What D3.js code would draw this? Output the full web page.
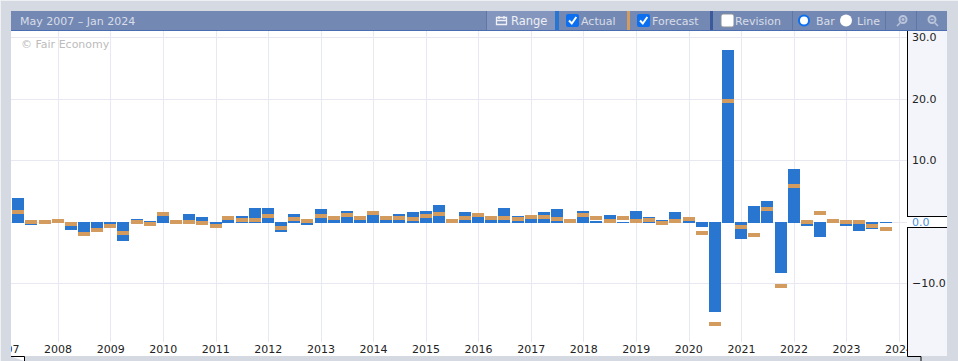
<!DOCTYPE html>
<html>
<head>
<meta charset="utf-8">
<script src="https://cdn.jsdelivr.net/npm/d3@7/dist/d3.min.js"></script>
<style>
  html, body { margin: 0; padding: 0; background: #d5d9e2; overflow: hidden; }
  svg { display: block; font-family: "DejaVu Sans", sans-serif; }
</style>
</head>
<body>
<div id="chart"></div>
<script>
// quarter start of every bar
var quarters = [
  "2007-04-01","2007-07-01","2007-10-01",
  "2008-01-01","2008-04-01","2008-07-01","2008-10-01",
  "2009-01-01","2009-04-01","2009-07-01","2009-10-01",
  "2010-01-01","2010-04-01","2010-07-01","2010-10-01",
  "2011-01-01","2011-04-01","2011-07-01","2011-10-01",
  "2012-01-01","2012-04-01","2012-07-01","2012-10-01",
  "2013-01-01","2013-04-01","2013-07-01","2013-10-01",
  "2014-01-01","2014-04-01","2014-07-01","2014-10-01",
  "2015-01-01","2015-04-01","2015-07-01","2015-10-01",
  "2016-01-01","2016-04-01","2016-07-01","2016-10-01",
  "2017-01-01","2017-04-01","2017-07-01","2017-10-01",
  "2018-01-01","2018-04-01","2018-07-01","2018-10-01",
  "2019-01-01","2019-04-01","2019-07-01","2019-10-01",
  "2020-01-01","2020-04-01","2020-07-01","2020-10-01",
  "2021-01-01","2021-04-01","2021-07-01","2021-10-01",
  "2022-01-01","2022-04-01","2022-07-01","2022-10-01",
  "2023-01-01","2023-04-01","2023-07-01","2023-10-01"
];

var actual = [
  4.0, -0.5, 0.2, 0.3, -1.2, -1.6, -1.0, -0.3, -3.0, 0.55, 0.2, 1.1, 0.1, 1.4, 0.9, -0.3, 0.4, 1.05,
  2.35, 2.35, -1.5, 1.4, -0.4, 2.2, 0.6, 1.9, 0.4, 1.3, 0.4, 1.4, 1.7, 1.9, 2.85, 0.2, 1.7, 1.0,
  0.4, 2.35, 1.05, 0.6, 1.7, 2.2, 0.2, 1.9, 0.25, 1.2, 0.1, 1.9, 0.9, 0.4, 1.7, 0.25,
  -0.75, -14.5, 28.0, -2.7, 2.7, 3.5, -8.2, 8.7, -0.55, -2.35, 0.2, -0.55, -1.4, -1.05, -0.1
];

var forecast = [
  1.7, 0.1, 0.1, 0.25, -0.25, -1.9, -1.2, -0.55, -1.7, 0.1, -0.25, 1.4, 0.1, 0.1, -0.1, -0.55, 0.75, 0.4,
  0.4, 1.05, -0.9, 0.55, 0.25, 1.05, 0.75, 1.2, 0.75, 1.55, 0.75, 0.75, 0.55, 1.05, 1.4, 0.25, 0.75, 1.2,
  0.75, 0.75, 0.55, 0.9, 0.9, 0.55, 0.25, 1.2, 0.75, 0.25, 0.75, 0.25, 0.4, -0.1, 0.25, 0.55,
  -1.7, -16.5, 19.7, -0.7, -2.0, 2.2, -10.3, 5.9, 0.1, 1.55, 0.25, 0.1, 0.1, -0.55, -1.05
];

var yTicks = [30, 20, 10, 0, -10];
var yearTicks = d3.range(2007, 2025);

var title = "May 2007 \u2013 Jan 2024";
var credit = "\u00a9 Fair Economy";

var W = 958, H = 361;
var left = 11, right = 947, axisX = 907, top_ = 31, bottom = 356;

var svg = d3.select("#chart").append("svg")
    .attr("width", W)
    .attr("height", H);

// outer edge of the widget
svg.append("rect").attr("width", W).attr("height", H).attr("fill", "#d5d9e2");
svg.append("rect").attr("width", W).attr("height", 1).attr("fill", "#eef0f4");
svg.append("rect").attr("width", 1).attr("height", H).attr("fill", "#eef0f4");

// plot area
svg.append("rect").attr("x", left).attr("y", top_)
    .attr("width", axisX - left).attr("height", bottom - top_).attr("fill", "#fff");

svg.append("clipPath").attr("id", "plot-clip").append("rect")
    .attr("x", left).attr("y", top_).attr("width", axisX - left).attr("height", bottom - top_);

var x = d3.scaleTime()
    .domain([new Date(2008, 0, 1), new Date(2024, 0, 1)])
    .range([58.3, 899.3]);

var y = d3.scaleLinear()
    .domain([30, -10])
    .range([37.6, 283.9]);

var barWidth = 12;
var parseDay = d3.timeParse("%Y-%m-%d");
var zeroY = Math.round(y(0));

function barX(i) {
    return Math.round(x(parseDay(quarters[i])) - 0.5 - barWidth / 2);
}

var plot = svg.append("g").attr("clip-path", "url(#plot-clip)");

// grid
plot.selectAll("line.vgrid")
    .data(yearTicks)
    .enter()
    .append("line")
    .attr("class", "vgrid")
    .attr("x1", function (d) { return Math.floor(x(new Date(d, 0, 1))) + 0.5; })
    .attr("x2", function (d) { return Math.floor(x(new Date(d, 0, 1))) + 0.5; })
    .attr("y1", top_)
    .attr("y2", 342)
    .attr("stroke", "#e7e8f2");

plot.selectAll("line.hgrid")
    .data(yTicks)
    .enter()
    .append("line")
    .attr("class", "hgrid")
    .attr("x1", left)
    .attr("x2", axisX)
    .attr("y1", function (d) { return Math.floor(y(d)) + 0.5; })
    .attr("y2", function (d) { return Math.floor(y(d)) + 0.5; })
    .attr("stroke", "#e7e8f2");

// actual bars, snapped to whole pixels
plot.selectAll("rect.actual")
    .data(actual)
    .enter()
    .append("rect")
    .attr("class", "actual")
    .attr("x", function (d, i) { return barX(i); })
    .attr("y", function (d) { return d > 0 ? Math.round(y(d)) : zeroY; })
    .attr("width", barWidth)
    .attr("height", function (d) {
        return d > 0 ? zeroY + 1 - Math.round(y(d)) : Math.round(y(d)) - zeroY;
    })
    .attr("fill", "#2876cf");

// forecast markers
plot.selectAll("rect.forecast")
    .data(forecast)
    .enter()
    .append("rect")
    .attr("class", "forecast")
    .attr("x", function (d, i) { return barX(i); })
    .attr("y", function (d) { return Math.round(y(d) - 2); })
    .attr("width", barWidth)
    .attr("height", 4)
    .attr("fill", "#d49b5f");

// copyright
svg.append("text")
    .attr("x", 21).attr("y", 48)
    .attr("font-size", 11)
    .attr("fill", "#bcbcbc")
    .text(credit);

// x axis, labels cut at the plot edges
svg.append("clipPath").attr("id", "label-clip").append("rect")
    .attr("x", left).attr("y", 0).attr("width", axisX - left).attr("height", H);

var xAxis = svg.append("g")
    .attr("clip-path", "url(#label-clip)")
    .append("g")
    .attr("transform", "translate(-0.8,342)")
    .call(d3.axisBottom(x)
        .tickValues(yearTicks.map(function (d) { return new Date(d, 0, 1); }))
        .tickFormat(d3.timeFormat("%Y"))
        .tickSize(0)
        .tickPadding(3));
xAxis.select(".domain").remove();
xAxis.selectAll("text").attr("font-size", 11).attr("font-family", "DejaVu Sans").attr("fill", "#222");

// y axis panel
svg.append("rect").attr("x", axisX).attr("y", top_)
    .attr("width", right - axisX).attr("height", bottom - top_).attr("fill", "#f4f5fa");
svg.append("path")
    .attr("d", "M" + (axisX + 0.5) + "," + top_ + "V" + (bottom + 0.5) + "H921V361")
    .attr("fill", "none").attr("stroke", "#000");

var yAxis = svg.append("g")
    .attr("transform", "translate(" + axisX + ",-0.5)")
    .call(d3.axisRight(y)
        .tickValues(yTicks)
        .tickFormat(d3.format(".1f"))
        .tickSize(0)
        .tickPadding(5));
yAxis.select(".domain").remove();
yAxis.selectAll("text").attr("font-size", 11).attr("font-family", "DejaVu Sans").attr("fill", "#222");

// flag around the zero label
yAxis.selectAll(".tick")
    .filter(function (d) { return d === 0; })
    .each(function () {
        d3.select(this).insert("rect", "text")
            .attr("x", 0).attr("y", -5.5)
            .attr("width", right - axisX).attr("height", 11)
            .attr("fill", "#fff");
        d3.select(this).insert("path", "text")
            .attr("d", "M0,-6H" + (right - axisX) + "M0,5H" + (right - axisX))
            .attr("stroke", "#000").attr("fill", "none")
            .attr("shape-rendering", "crispEdges");
        d3.select(this).select("text").attr("fill", "#4a90d9");
    });

// range handle at bottom left
svg.append("path")
    .attr("d", "M" + left + ",356.5H24.5V361")
    .attr("fill", "#fff").attr("stroke", "#000");

// header bar
var header = svg.append("g");
header.append("rect").attr("x", left).attr("y", 11)
    .attr("width", right - left).attr("height", 19).attr("fill", "#7389b4");
header.append("rect").attr("x", left).attr("y", 30)
    .attr("width", right - left).attr("height", 1).attr("fill", "#4a6cb0");

var headerText = "#d9dde8";
function label(t, px, size, colour) {
    header.append("text")
        .attr("x", px).attr("y", 25)
        .attr("font-size", size || 11)
        .attr("fill", colour || headerText)
        .text(t);
}

label(title, 20);

// range button
header.append("rect").attr("x", 487).attr("y", 11).attr("width", 68).attr("height", 19).attr("fill", "#8496bd");
header.append("rect").attr("x", 486).attr("y", 11).attr("width", 1).attr("height", 19).attr("fill", "#5c77a8");
header.append("path")
    .attr("d", "M496.5,17.5h10v7h-10zM496.5,20.5h10M499,16v3M504,16v3")
    .attr("fill", "none").attr("stroke", "#eef0f5").attr("stroke-width", 1.3);
label("Range", 511, 11.5, "#eef0f5");

// legend stripes
[[555, 4, "#2876cf"], [627, 3, "#d49b5f"], [710, 3, "#3c5a99"]].forEach(function (s) {
    header.append("rect").attr("x", s[0]).attr("y", 11).attr("width", s[1]).attr("height", 19).attr("fill", s[2]);
});

// separators
[792, 885, 916].forEach(function (s) {
    header.append("rect").attr("x", s).attr("y", 11).attr("width", 1).attr("height", 19).attr("fill", "#5c77a8");
});

function checkbox(px, on) {
    header.append("rect").attr("x", px).attr("y", 14).attr("width", 13).attr("height", 13).attr("rx", 2)
        .attr("fill", on ? "#0b6ff0" : "#fff")
        .attr("stroke", on ? "none" : "#8a8f99");
    if (on) {
        header.append("path")
            .attr("d", "M" + (px + 3) + ",20.5l2.8,3l4.5,-6.5")
            .attr("fill", "none").attr("stroke", "#fff").attr("stroke-width", 2);
    }
}
checkbox(566, true);
label("Actual", 581);
checkbox(637, true);
label("Forecast", 652);
checkbox(721, false);
label("Revision", 735);

// radio buttons
header.append("circle").attr("cx", 804).attr("cy", 20.5).attr("r", 5)
    .attr("fill", "#fff").attr("stroke", "#0b6ff0").attr("stroke-width", 2);
label("Bar", 816);
header.append("circle").attr("cx", 846).attr("cy", 20.5).attr("r", 6).attr("fill", "#fff");
label("Line", 857);

// zoom icons
header.append("circle").attr("cx", 903).attr("cy", 19.5).attr("r", 3.5)
    .attr("fill", "none").attr("stroke", "#b9c3d9").attr("stroke-width", 2);
header.append("path").attr("d", "M900,23l-3,3M901.5,19.5h3M903,18v3")
    .attr("fill", "none").attr("stroke", "#b9c3d9").attr("stroke-width", 1.5);
header.append("circle").attr("cx", 932).attr("cy", 19.5).attr("r", 3.5)
    .attr("fill", "none").attr("stroke", "#b9c3d9").attr("stroke-width", 2);
header.append("path").attr("d", "M935,23l3,3M930.5,19.5h3")
    .attr("fill", "none").attr("stroke", "#b9c3d9").attr("stroke-width", 1.5);
</script>
</body>
</html>
